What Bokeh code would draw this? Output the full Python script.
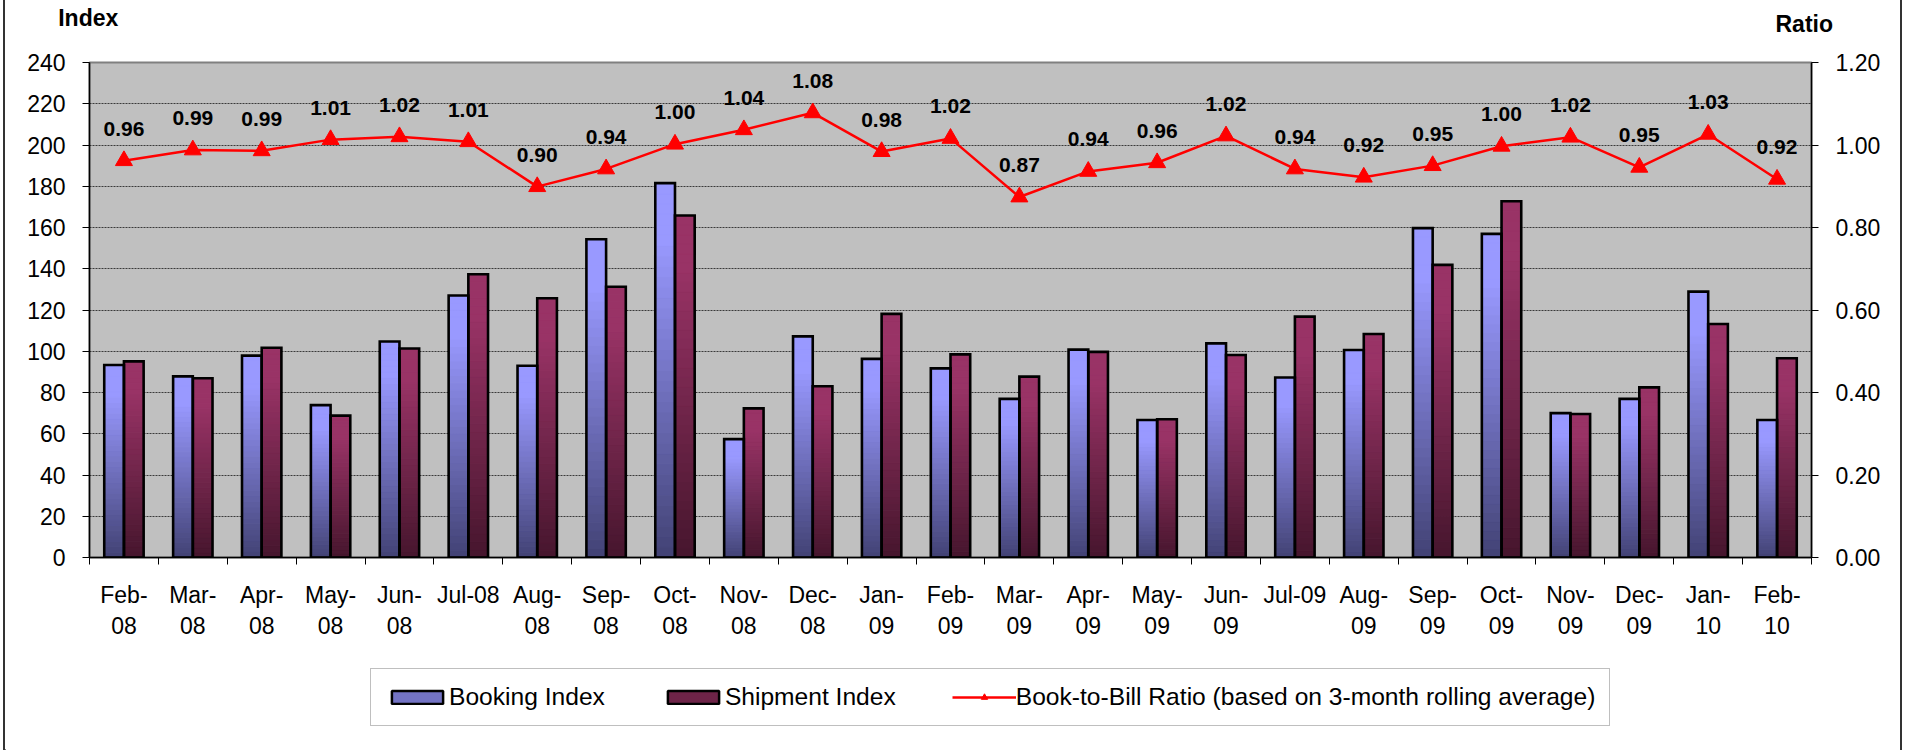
from bokeh.plotting import figure
from bokeh.layouts import column
from bokeh.models import (Range1d, LinearAxis, FixedTicker, NumeralTickFormatter,
                          ColumnDataSource, LabelSet, Label, Legend, LegendItem, LinearScale)
from bokeh.embed import file_html
from bokeh.resources import INLINE
from bokeh.core.properties import value

# ---------------- data ----------------
months = ["Feb-08", "Mar-08", "Apr-08", "May-08", "Jun-08", "Jul-08", "Aug-08", "Sep-08",
          "Oct-08", "Nov-08", "Dec-08", "Jan-09", "Feb-09", "Mar-09", "Apr-09", "May-09",
          "Jun-09", "Jul-09", "Aug-09", "Sep-09", "Oct-09", "Nov-09", "Dec-09", "Jan-10", "Feb-10"]
month_labels = ["Feb-\n08", "Mar-\n08", "Apr-\n08", "May-\n08", "Jun-\n08", "Jul-08", "Aug-\n08",
                "Sep-\n08", "Oct-\n08", "Nov-\n08", "Dec-\n08", "Jan-\n09", "Feb-\n09", "Mar-\n09",
                "Apr-\n09", "May-\n09", "Jun-\n09", "Jul-09", "Aug-\n09", "Sep-\n09", "Oct-\n09",
                "Nov-\n09", "Dec-\n09", "Jan-\n10", "Feb-\n10"]
booking = [93.3, 87.8, 97.9, 73.9, 104.7, 127.0, 93.0, 154.3, 181.5, 57.4, 107.2, 96.3, 91.7,
           76.9, 100.8, 66.7, 103.8, 87.3, 100.6, 159.7, 156.9, 70.0, 76.9, 128.9, 66.7]
shipment = [95.1, 86.9, 101.7, 68.8, 101.3, 137.3, 125.7, 131.3, 165.8, 72.3, 83.0, 118.1, 98.5,
            87.7, 99.7, 67.0, 98.2, 116.8, 108.4, 141.9, 172.7, 69.6, 82.5, 113.2, 96.6]
ratio = [0.962, 0.988, 0.986, 1.013, 1.020, 1.008, 0.899, 0.942, 1.002, 1.037, 1.078, 0.984,
         1.016, 0.874, 0.936, 0.957, 1.022, 0.942, 0.922, 0.950, 0.997, 1.019, 0.946, 1.026, 0.917]
ratio_labels = ["0.96", "0.99", "0.99", "1.01", "1.02", "1.01", "0.90", "0.94", "1.00", "1.04",
                "1.08", "0.98", "1.02", "0.87", "0.94", "0.96", "1.02", "0.94", "0.92", "0.95",
                "1.00", "1.02", "0.95", "1.03", "0.92"]
index_ticks = [0, 20, 40, 60, 80, 100, 120, 140, 160, 180, 200, 220, 240]
ratio_ticks = [0.0, 0.2, 0.4, 0.6, 0.8, 1.0, 1.2]

FONT = "Liberation Sans"
W = 1895
n = len(months)
centers = [i + 0.5 for i in range(n)]          # category slot centres on a 0..n axis
BW = 0.286                                       # bar width, in category units
x_book = [c - BW / 2 for c in centers]
x_ship = [c + BW / 2 for c in centers]

# ---------------- gradient helpers ----------------
def _hex(c):
    return "#%02x%02x%02x" % tuple(int(round(v)) for v in c)

def _grad(light, dark, t):
    s = max(0.0, min(1.0, (t - 0.15) / 0.85))
    return _hex([l + (d - l) * s for l, d in zip(light, dark)])

N_BANDS = 36
def band_source(xs_in, vals, light, dark):
    xs, bots, tops, cols = [], [], [], []
    for x, v in zip(xs_in, vals):
        for k in range(N_BANDS):
            xs.append(x)
            bots.append(v * k / N_BANDS)
            tops.append(v * (k + 1) / N_BANDS)
            cols.append(_grad(light, dark, 1 - (k + 0.5) / N_BANDS))
    return ColumnDataSource(dict(x=xs, bottom=bots, top=tops, color=cols))

BOOK_LIGHT, BOOK_DARK = (153, 153, 255), (66, 66, 116)
SHIP_LIGHT, SHIP_DARK = (153, 51, 102), (70, 22, 45)

def no_align(f):
    try:
        f.frame_align = False
    except Exception:
        pass

def blank_fig(h):
    f = figure(width=W, height=h, x_range=Range1d(0, 1), y_range=Range1d(0, 1),
               output_backend="svg", toolbar_location=None, x_axis_location=None,
               y_axis_location=None, min_border=0, min_border_left=0, min_border_right=0,
               min_border_top=0, min_border_bottom=0, outline_line_color=None,
               background_fill_color="white", border_fill_color="white")
    f.grid.visible = False
    no_align(f)
    return f

# ---------------- header strip with the axis titles ----------------
top = blank_fig(42)
top.add_layout(Label(x=52.7, y=25, x_units="screen", y_units="screen", text="Index",
                     text_font=FONT, text_font_style="bold", text_font_size="23px",
                     text_baseline="alphabetic", text_color="black"))
top.add_layout(Label(x=1770, y=18.5, x_units="screen", y_units="screen", text="Ratio",
                     text_font=FONT, text_font_style="bold", text_font_size="23px",
                     text_baseline="alphabetic", text_color="black"))

# ---------------- main chart ----------------
p = figure(width=W, height=615, x_range=Range1d(0, n), y_range=Range1d(0, 240),
           output_backend="svg", toolbar_location=None, x_axis_location=None,
           y_axis_location="left",
           min_border_left=84, min_border_right=89, min_border_top=20, min_border_bottom=100,
           background_fill_color="#C0C0C0", border_fill_color="white",
           outline_line_color="#808080", outline_line_width=2)
no_align(p)
p.extra_y_ranges = {"ratio": Range1d(0, 1.2)}
p.extra_y_scales = {"ratio": LinearScale()}

for g in p.xgrid:
    g.visible = False
yg = p.ygrid[0]
yg.ticker = FixedTicker(ticks=index_ticks)
yg.grid_line_color = "#3a3a3a"
yg.grid_line_dash = "2 1"
yg.grid_line_width = 1

ya = p.yaxis[0]
ya.ticker = FixedTicker(ticks=index_ticks)
ya.major_label_text_font = FONT
ya.major_label_text_font_size = "23px"
ya.major_label_text_color = "black"
ya.major_tick_out = 7
ya.major_tick_in = 0
ya.minor_tick_out = 0
ya.minor_tick_in = 0
ya.major_label_standoff = 17
ya.axis_line_color = "black"
ya.axis_line_width = 1.5
ya.major_tick_line_color = "black"

ra = LinearAxis(y_range_name="ratio", ticker=FixedTicker(ticks=ratio_ticks),
                formatter=NumeralTickFormatter(format="0.00"),
                major_label_text_font=FONT, major_label_text_font_size="23px",
                major_label_text_color="black", major_tick_out=7, major_tick_in=0,
                minor_tick_out=0, minor_tick_in=0, major_label_standoff=17,
                axis_line_color="black", axis_line_width=1.5)
p.add_layout(ra, "right")

bounds = list(range(n + 1))
tick_axis = LinearAxis(ticker=FixedTicker(ticks=bounds),
                       major_label_overrides={b: "" for b in bounds},
                       major_label_text_font_size="0px", major_label_standoff=0,
                       major_tick_out=7, major_tick_in=0, minor_tick_out=0, minor_tick_in=0,
                       axis_line_color="black", axis_line_width=1.5, major_tick_line_color="black")
p.add_layout(tick_axis, "below")

cat_axis = LinearAxis(ticker=FixedTicker(ticks=centers),
                      major_label_overrides=dict(zip(centers, month_labels)),
                      major_tick_line_color=None, axis_line_color=None,
                      minor_tick_line_color=None,
                      major_label_text_font=FONT, major_label_text_font_size="23px",
                      major_label_text_color="black", major_label_standoff=11,
                      major_label_orientation="horizontal")
p.add_layout(cat_axis, "below")

# bars: gradient bands + black outline
bsrc = band_source(x_book, booking, BOOK_LIGHT, BOOK_DARK)
ssrc = band_source(x_ship, shipment, SHIP_LIGHT, SHIP_DARK)
p.vbar(x="x", bottom="bottom", top="top", width=BW, source=bsrc,
       fill_color="color", line_color="color", line_width=1)
p.vbar(x="x", bottom="bottom", top="top", width=BW, source=ssrc,
       fill_color="color", line_color="color", line_width=1)

src = ColumnDataSource(dict(month=months, center=centers, x_book=x_book, x_ship=x_ship,
                            booking=booking, shipment=shipment,
                            ratio=ratio, ratio_label=ratio_labels))
p.vbar(x="x_book", top="booking", width=BW, source=src,
       fill_alpha=0, line_color="black", line_width=2.6, line_join="miter")
p.vbar(x="x_ship", top="shipment", width=BW, source=src,
       fill_alpha=0, line_color="black", line_width=2.6, line_join="miter")

# ratio line
p.line(x="center", y="ratio", y_range_name="ratio", source=src, line_color="#FF0000", line_width=2.5)
p.scatter(x="center", y="ratio", y_range_name="ratio", source=src, marker="triangle", size=17,
          fill_color="#FF0000", line_color="#FF0000")

p.add_layout(LabelSet(x="center", y="ratio", y_range_name="ratio", text="ratio_label", source=src,
                      text_align="center", text_baseline="alphabetic", y_offset=25,
                      text_font=value(FONT), text_font_style="bold", text_font_size="21px",
                      text_color="black"))

# ---------------- legend strip ----------------
leg = blank_fig(93)
# one point each, placed outside the strip's visible range: only the legend swatches show
leg_b = leg.vbar(x=[-10], top=[-10], width=0.1, fill_color="#7373C4", line_color="black", line_width=2.5)
leg_s = leg.vbar(x=[-10], top=[-10], width=0.1, fill_color="#6E2448", line_color="black", line_width=2.5)
leg_l = leg.line(x=[-10, -9], y=[-10, -10], line_color="#FF0000", line_width=2.5)
leg_m = leg.scatter(x=[-10], y=[-10], marker="triangle", size=16, fill_color="#FF0000", line_color="#FF0000")

legend = Legend(items=[LegendItem(label="Booking Index", renderers=[leg_b]),
                       LegendItem(label="Shipment Index", renderers=[leg_s]),
                       LegendItem(label="Book-to-Bill Ratio (based on 3-month rolling average)",
                                  renderers=[leg_l, leg_m])],
                orientation="horizontal", location=(365, 24),
                border_line_color="#808080", border_line_width=1.5,
                background_fill_color="white", background_fill_alpha=1,
                padding=14, margin=0, spacing=56, label_standoff=0,
                glyph_width=64, glyph_height=16, label_text_font=FONT,
                label_text_font_size="24.6px", label_text_color="black")
leg.add_layout(legend, "center")

layout = column(top, p, leg, spacing=0,
                styles={"margin-left": "3px",
                        "border-left": "2px solid #333333", "border-right": "2px solid #333333"})

open("out.html", "w").write(file_html(layout, INLINE))
